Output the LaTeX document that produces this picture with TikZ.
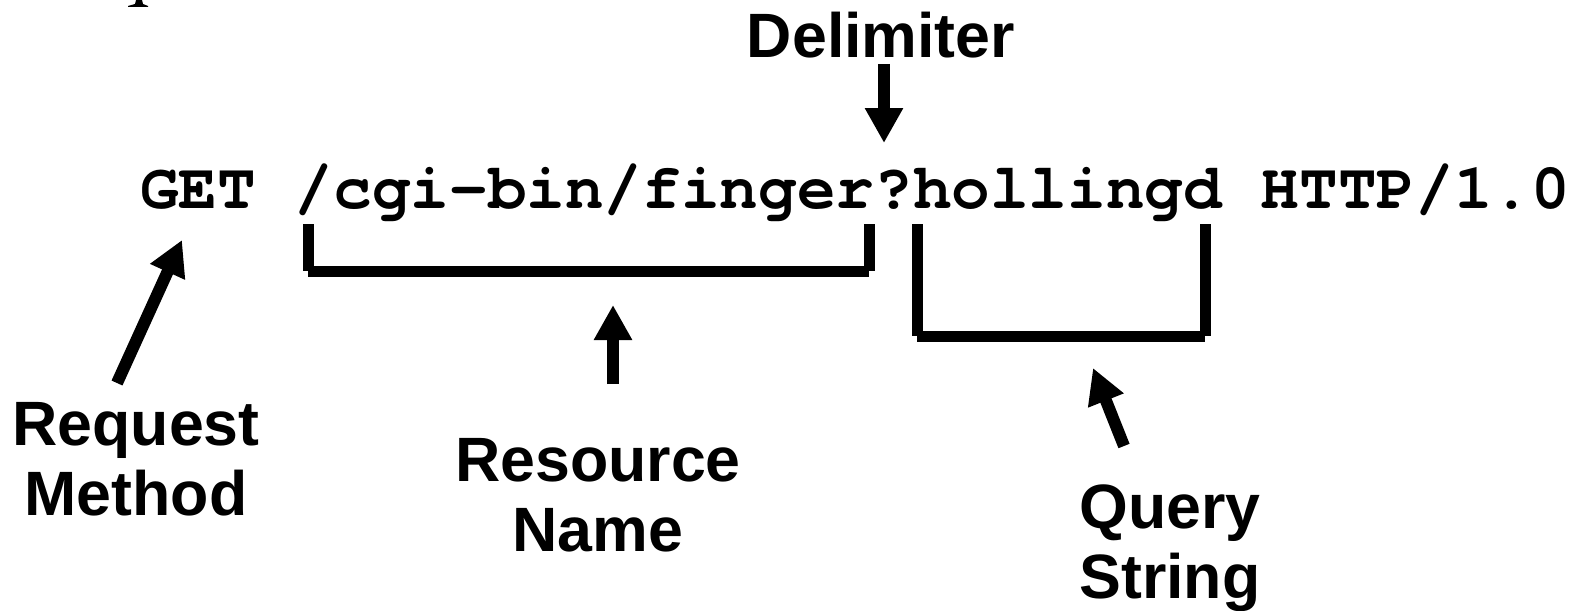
\documentclass[tikz,border=0pt]{standalone}
\usepackage{fontspec}
\setmainfont{Liberation Sans}
\newfontfamily\monof[Ligatures={NoCommon,NoRequired,NoContextual}]{TeX Gyre Cursor}
\usetikzlibrary{arrows.meta}
\tikzset{
  lbl/.style={font=\fontsize{47}{52.5}\selectfont\bfseries, align=center, inner sep=0pt, anchor=base},
  code/.style={font=\fontsize{48.3}{58}\selectfont\monof\bfseries, inner sep=0pt, anchor=base west},
  arr/.style={line width=9pt, -{Triangle[length=26.25pt,width=27pt]}},
  brk/.style={line width=8.25pt, line cap=butt}
}
\begin{document}
\begin{tikzpicture}[x=0.75pt,y=-0.75pt]
\useasboundingbox (0,0) rectangle (1573,610);
% cropped glyph fragment at top edge
\fill (136,0) -- (142,0) -- (143,4) -- (148,6) -- (148,7) -- (128,7) -- (128,6) -- (135,4) -- cycle;
% main request line
\node[code] (line) at (140,208) {GET /cgi-bin/f\kern0pt inger?hollingd HTTP/1.0};
% labels (anchor = baseline of last line)
\node[lbl] (delim) at (881,58) {Delimiter};
\node[lbl] (reqm) at (136,515) {Request\\Method};
\node[lbl] (resn) at (598,551) {Resource\\Name\hspace{0.3em}};
\node[lbl] (qstr) at (1170,598) {Query\\String};
% arrow end points
\coordinate (d1) at (884,64);  \coordinate (d2) at (884,143);
\coordinate (m1) at (117,383); \coordinate (m2) at (182,240);
\coordinate (r1) at (613,384); \coordinate (r2) at (613,305);
\coordinate (q1) at (1124,446); \coordinate (q2) at (1093,368);
\draw[arr] (d1) -- (d2);
\draw[arr] (m1) -- (m2);
\draw[arr] (r1) -- (r2);
\draw[arr] (q1) -- (q2);
% brackets
\coordinate (ra) at (308,224); \coordinate (rb) at (308,271);
\coordinate (rc) at (869,271); \coordinate (rd) at (869,224);
\draw[brk] (ra) -- (rb);
\draw[brk] (rb) -- (rc);
\draw[brk] (rd) -- (rc);
\coordinate (qa) at (917,224); \coordinate (qb) at (917,336);
\coordinate (qc) at (1205,336); \coordinate (qd) at (1205,224);
\draw[brk] (qa) -- (qb);
\draw[brk] (qb) -- (qc);
\draw[brk] (qd) -- (qc);
\end{tikzpicture}
\end{document}
